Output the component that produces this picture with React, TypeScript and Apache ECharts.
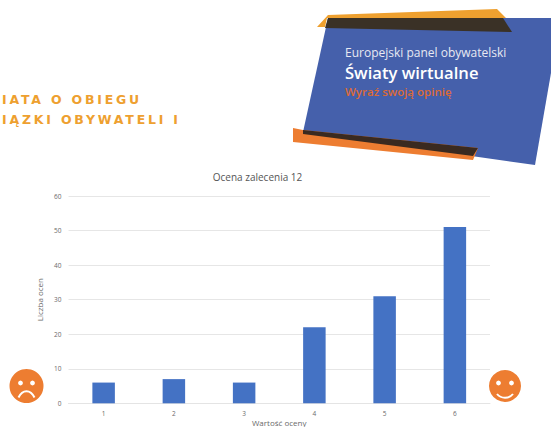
import React, { useEffect, useRef } from "react";
import * as echarts from "echarts";

const categories = ["1", "2", "3", "4", "5", "6"];
const ratingCounts = [6, 7, 6, 22, 31, 51];
const headingLines = ["IATA O OBIEGU", "IĄZKI OBYWATELI I"];
const bannerLines = ["Europejski panel obywatelski", "Światy wirtualne", "Wyraź swoją opinię"];

const GREY = "#6a6a6a";
const ORANGE = "#ed7d31";
const AMBER = "#eea02f";
const DARK = "#3a3126";

function poly(points: number[][], fill: string) {
  return { type: "polygon", silent: true, shape: { points }, style: { fill } };
}

function face(cx: number, cy: number, r: number, eyeDx: number, mouthEdgeY: number, mouthCtrlY: number) {
  return [
    { type: "circle", shape: { cx, cy, r }, style: { fill: ORANGE } },
    { type: "circle", shape: { cx: cx - eyeDx, cy: cy - 3, r: 2.4 }, style: { fill: "#fff" } },
    { type: "circle", shape: { cx: cx + eyeDx, cy: cy - 3, r: 2.4 }, style: { fill: "#fff" } },
    {
      type: "bezierCurve",
      shape: {
        x1: cx - 8, y1: cy + mouthEdgeY,
        cpx1: cx - 4, cpy1: cy + mouthCtrlY,
        cpx2: cx + 4, cpy2: cy + mouthCtrlY,
        x2: cx + 8, y2: cy + mouthEdgeY,
      },
      style: { stroke: "#fff", fill: "none", lineWidth: 2 },
    },
  ];
}

export default function App() {
  const ref = useRef<HTMLDivElement>(null);

  useEffect(() => {
    const chart = echarts.init(ref.current!, undefined, { renderer: "svg" });
    chart.setOption({
      animation: false,
      backgroundColor: "#ffffff",
      title: {
        text: "Ocena zalecenia 12",
        left: 252.5,
        top: 167,
        textAlign: "center",
        textStyle: { color: "#555", fontSize: 10, fontWeight: "normal", fontFamily: "Open Sans" },
      },
      grid: { left: 68.5, width: 421.5, top: 196, height: 207.3, outerBoundsMode: "none" },
      xAxis: {
        type: "category",
        data: categories,
        name: "Wartość oceny",
        nameLocation: "middle",
        nameGap: 15.5,
        nameTextStyle: { color: GREY, fontSize: 8, fontFamily: "Open Sans" },
        axisLine: { lineStyle: { color: "#e4e4e4" } },
        axisTick: { show: false },
        axisLabel: { color: GREY, fontSize: 6.5, margin: 7, fontFamily: "Open Sans" },
      },
      yAxis: {
        type: "value",
        min: 0,
        max: 60,
        interval: 10,
        name: "Liczba ocen",
        nameLocation: "middle",
        nameGap: 17,
        nameTextStyle: { color: GREY, fontSize: 8, fontFamily: "Open Sans" },
        axisLine: { show: false },
        axisTick: { show: false },
        axisLabel: { color: GREY, fontSize: 6.5, margin: 7, fontFamily: "Open Sans" },
        splitLine: { lineStyle: { color: "#e6e6e6", width: 1 } },
      },
      series: [
        {
          type: "bar",
          data: ratingCounts,
          barWidth: 22.5,
          itemStyle: { color: "#4472c4" },
        },
      ],
      graphic: {
        elements: [
          poly([[328, 18], [551, 18], [551, 73], [535, 165], [303, 132]], "#4560ab"),
          poly([[317, 27], [328, 15], [497, 9], [506, 18], [327, 18], [325, 27]], AMBER),
          poly([[328, 18], [503, 18], [512, 32], [325, 28]], DARK),
          poly([[293, 128], [303, 130], [478, 148], [473, 160], [293, 142]], ORANGE),
          poly([[303, 130], [478, 148], [473, 156], [303, 134]], "#3a2a20"),
          {
            type: "text", x: 345, y: 52,
            style: { text: bannerLines[0], fill: "#e8e9f2", fontSize: 12, verticalAlign: "middle", fontFamily: "Open Sans" },
          },
          {
            type: "text", x: 345, y: 72,
            style: { text: bannerLines[1], fill: "#ffffff", fontSize: 16.6, verticalAlign: "middle", fontFamily: "Open Sans", fontWeight: 600 },
          },
          {
            type: "text", x: 345, y: 91,
            style: { text: bannerLines[2], fill: "#dc6a35", fontSize: 11.5, verticalAlign: "middle", fontFamily: "Open Sans", fontWeight: 600 },
          },
          {
            type: "text", x: 2, y: 99,
            style: { text: headingLines[0], fill: AMBER, fontSize: 12.5, verticalAlign: "middle", fontWeight: "bold", fontFamily: "DejaVu Sans" },
          },
          {
            type: "text", x: 2, y: 119,
            style: { text: headingLines[1], fill: AMBER, fontSize: 12.5, verticalAlign: "middle", fontWeight: "bold", fontFamily: "DejaVu Sans" },
          },
          ...face(26.5, 386, 17, 6, 11.5, 3),
          ...face(505, 386, 16, 6.5, 8, 13),
        ],
      },
    });
    return () => chart.dispose();
  }, []);

  return (
    <div style={{ position: "fixed", left: 0, top: 0 }}>
      <style>{`#chart text[fill="${AMBER}"], #chart text[style*="${AMBER}"] { letter-spacing: 2.8px; }`}</style>
      <div id="chart" ref={ref} style={{ width: 551, height: 427 }} />
    </div>
  );
}
